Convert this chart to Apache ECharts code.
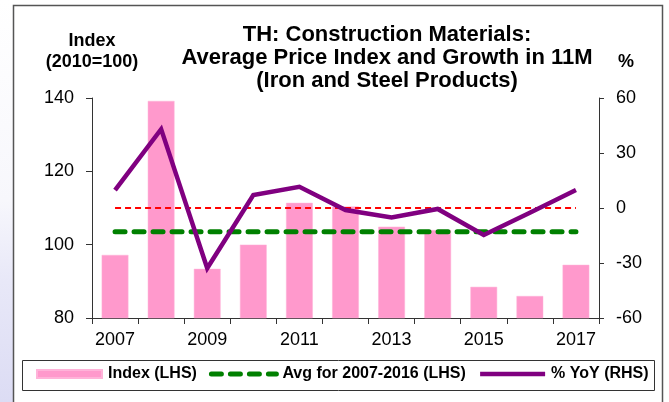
<!DOCTYPE html>
<html>
<head>
<meta charset="utf-8">
<script src="https://cdn.jsdelivr.net/npm/echarts@6/dist/echarts.min.js"></script>
<style>
  html, body { margin: 0; padding: 0; background: #ffffff; }
  #chart { width: 669px; height: 402px; }
</style>
</head>
<body>
<div id="chart"></div>
<script>
// ---- data ----
const years = ['2007','2008','2009','2010','2011','2012','2013','2014','2015','2016','2017'];
const indexValues = [97.2, 139.2, 93.4, 100.0, 111.4, 110.4, 104.9, 104.0, 88.5, 86.0, 94.5];
const avgValues = [103.5, 103.5, 103.5, 103.5, 103.5, 103.5, 103.5, 103.5, 103.5, 103.5, 103.5];
const yoyValues = [9.8, 43.0, -32.9, 7.1, 11.6, -1.1, -5.1, -0.5, -14.7, -2.6, 9.8];
const zeroLine = [0, 0, 0, 0, 0, 0, 0, 0, 0, 0, 0];
const leftTicks = { min: 80, max: 140, interval: 20 };
const rightTicks = { min: -60, max: 60, interval: 30 };
const titleLines = ['TH: Construction Materials:', 'Average Price Index and Growth in 11M', '(Iron and Steel Products)'];
const seriesNames = ['Index (LHS)', 'Avg for 2007-2016 (LHS)', '% YoY (RHS)'];

const FONT = '"Liberation Sans", Arial, sans-serif';
const chart = echarts.init(document.getElementById('chart'), null, { renderer: 'canvas' });

const greenLine = { color: '#008000', width: 5, type: [10, 9], cap: 'round' };
const purpleLine = { color: '#800080', width: 4.5, join: 'miter' };

chart.setOption({
  animation: false,
  backgroundColor: '#ffffff',
  textStyle: { fontFamily: FONT, color: '#000' },
  graphic: [
    {
      type: 'rect', z: -10, silent: true,
      shape: { x: 0, y: 0, width: 13, height: 402 },
      style: {
        fill: new echarts.graphic.LinearGradient(0, 0, 0, 1, [
          { offset: 0, color: '#ffffff' },
          { offset: 0.5, color: '#f7f7fc' },
          { offset: 0.7, color: '#e8e8f8' },
          { offset: 1, color: '#dcdcf4' }
        ])
      }
    },
    {
      type: 'polyline', z: -5, silent: true,
      shape: { points: [[13.5, 402], [13.5, 5.5], [662.5, 5.5], [662.5, 402]] },
      style: { stroke: '#555', lineWidth: 1.5, fill: null }
    },
    {
      type: 'rect', z: -5, silent: true,
      shape: { x: 22.5, y: 360.5, width: 632, height: 30 },
      style: { stroke: '#333', lineWidth: 1, fill: '#fff' }
    }
  ],
  title: {
    text: titleLines.join('\n'),
    left: 382,
    top: 18,
    textAlign: 'center',
    textStyle: { fontFamily: FONT, fontSize: 22, fontWeight: 'bold', lineHeight: 23, color: '#000' }
  },
  legend: {
    data: [
      { name: seriesNames[0], icon: 'rect' },
      { name: seriesNames[1], itemStyle: { opacity: 0 }, lineStyle: greenLine },
      { name: seriesNames[2], itemStyle: { opacity: 0 }, lineStyle: purpleLine }
    ],
    left: 36,
    top: 366,
    padding: 0,
    itemWidth: 65,
    itemHeight: 8,
    itemGap: 12,
    textStyle: { fontFamily: FONT, fontSize: 16, fontWeight: 'bold', color: '#000', padding: [0, 0, 0, 1] }
  },
  grid: { left: 92, right: 70, top: 98, bottom: 84, containLabel: false },
  xAxis: {
    type: 'category',
    data: years,
    boundaryGap: true,
    axisLine: { onZero: false, lineStyle: { color: '#333', width: 1 } },
    axisTick: { show: true, interval: 0, length: 6, alignWithLabel: false, lineStyle: { color: '#333' } },
    axisLabel: { interval: 1, fontSize: 18, color: '#000', margin: 13, fontFamily: FONT },
    splitLine: { show: false }
  },
  yAxis: [
    {
      type: 'value',
      min: leftTicks.min, max: leftTicks.max, interval: leftTicks.interval,
      position: 'left',
      name: 'Index\n(2010=100)',
      nameLocation: 'end',
      nameGap: 25,
      nameTextStyle: { fontFamily: FONT, fontSize: 18, fontWeight: 'bold', lineHeight: 21, align: 'center', verticalAlign: 'bottom', color: '#000' },
      axisLine: { show: true, lineStyle: { color: '#333', width: 1 } },
      axisTick: { show: true, length: 6, lineStyle: { color: '#333' } },
      axisLabel: { fontSize: 18, color: '#000', margin: 18, fontFamily: FONT },
      splitLine: { show: false }
    },
    {
      type: 'value',
      min: rightTicks.min, max: rightTicks.max, interval: rightTicks.interval,
      position: 'right',
      name: '%',
      nameLocation: 'end',
      nameGap: 27,
      nameTextStyle: { fontFamily: FONT, fontSize: 18, fontWeight: 'bold', align: 'left', verticalAlign: 'bottom', color: '#000', padding: [0, 0, 0, 19] },
      axisLine: { show: true, lineStyle: { color: '#333', width: 1 } },
      axisTick: { show: true, length: 5, lineStyle: { color: '#333' } },
      axisLabel: { fontSize: 18, color: '#000', margin: 17, fontFamily: FONT },
      splitLine: { show: false }
    }
  ],
  series: [
    {
      name: seriesNames[0],
      type: 'bar',
      yAxisIndex: 0,
      data: indexValues,
      barWidth: '58%',
      itemStyle: { color: '#FF99CC', borderColor: '#FFB3D9', borderWidth: 0.5 },
      z: 1
    },
    {
      name: 'zero',
      type: 'line',
      yAxisIndex: 1,
      data: zeroLine,
      symbol: 'none',
      lineStyle: { color: '#FF0000', width: 2, type: [6, 4] },
      z: 2
    },
    {
      name: seriesNames[1],
      type: 'line',
      yAxisIndex: 0,
      data: avgValues,
      symbol: 'none',
      lineStyle: greenLine,
      z: 3
    },
    {
      name: seriesNames[2],
      type: 'line',
      yAxisIndex: 1,
      data: yoyValues,
      symbol: 'none',
      lineStyle: purpleLine,
      z: 4
    }
  ]
});
</script>
</body>
</html>
